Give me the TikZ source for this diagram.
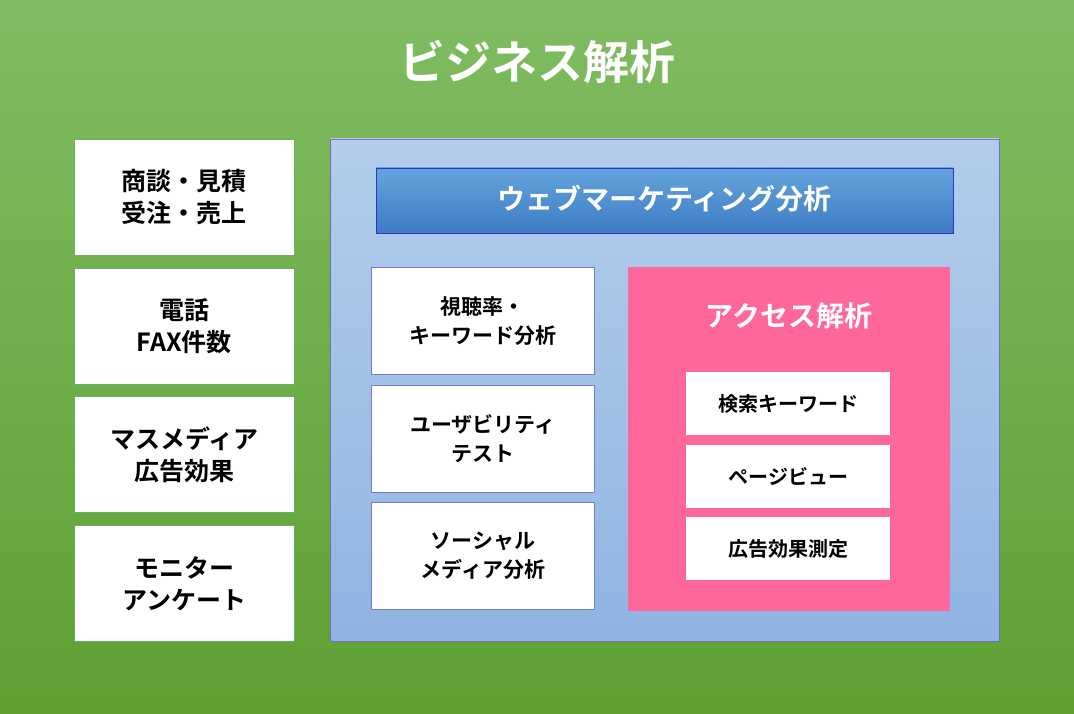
\documentclass[tikz,border=0pt]{standalone}
\usepackage{fontspec}
\setmainfont{Noto Sans CJK JP}[BoldFont={* Bold}]
\newfontfamily\jpb{Noto Sans CJK JP Bold}
\begin{document}
\begin{tikzpicture}[x=1pt,y=-1pt,
 lbox/.style={draw=green!50!black!60,line width=0.8pt,fill=white,minimum width=220pt,minimum height=116pt,align=center,font=\jpb\fontsize{25}{32}\selectfont,anchor=north west},
 mbox/.style={draw=blue!50!gray!70,line width=0.8pt,fill=white,minimum width=223pt,minimum height=107pt,align=center,font=\jpb\fontsize{21}{29}\selectfont,anchor=north west},
 ibox/.style={fill=white,minimum width=204pt,minimum height=63pt,align=center,font=\jpb\fontsize{20}{26}\selectfont,anchor=north west}]
\definecolor{gtop}{HTML}{80BC62}\definecolor{gbot}{HTML}{5EA032}
\definecolor{btop}{HTML}{B3CDEB}\definecolor{bbot}{HTML}{8FB4E2}
\definecolor{htop}{HTML}{64A4DC}\definecolor{hbot}{HTML}{3D7CC4}
\definecolor{pink}{HTML}{FF6699}
\useasboundingbox (0,0) rectangle (1074,714);
\shade[top color=gtop,bottom color=gbot] (0,0) rectangle (1074,714);
\node[text=white,font=\jpb\fontsize{46}{50}\selectfont] (title) at (537,62) {ビジネス解析};
\node[lbox] (l1) at (74,139) {商談・見積\\受注・売上};
\node[lbox] (l2) at (74,268) {電話\\FAX件数};
\node[lbox] (l3) at (74,396) {マスメディア\\広告効果};
\node[lbox] (l4) at (74,525) {モニター\\アンケート};
\shade[top color=btop,bottom color=bbot,draw=blue!40!gray!80] (330,139) rectangle (999,641);
\shade[top color=htop,bottom color=hbot,draw=blue!60!gray] (376,168) rectangle (953,233);
\node[text=white,font=\jpb\fontsize{28}{32}\selectfont] (web) at (664.5,199) {ウェブマーケティング分析};
\node[mbox] (m1) at (371,267) {視聴率・\\キーワード分析};
\node[mbox] (m2) at (371,385) {ユーザビリティ\\テスト};
\node[mbox] (m3) at (371,502) {ソーシャル\\メディア分析};
\node[fill=pink,minimum width=322pt,minimum height=344pt,anchor=north west] (acc) at (628,267) {};
\node[text=white,font=\jpb\fontsize{28}{32}\selectfont] (acct) at (789,316) {アクセス解析};
\node[ibox] (i1) at (686,372) {検索キーワード};
\node[ibox] (i2) at (686,445) {ページビュー};
\node[ibox] (i3) at (686,517) {広告効果測定};
\end{tikzpicture}
\end{document}
